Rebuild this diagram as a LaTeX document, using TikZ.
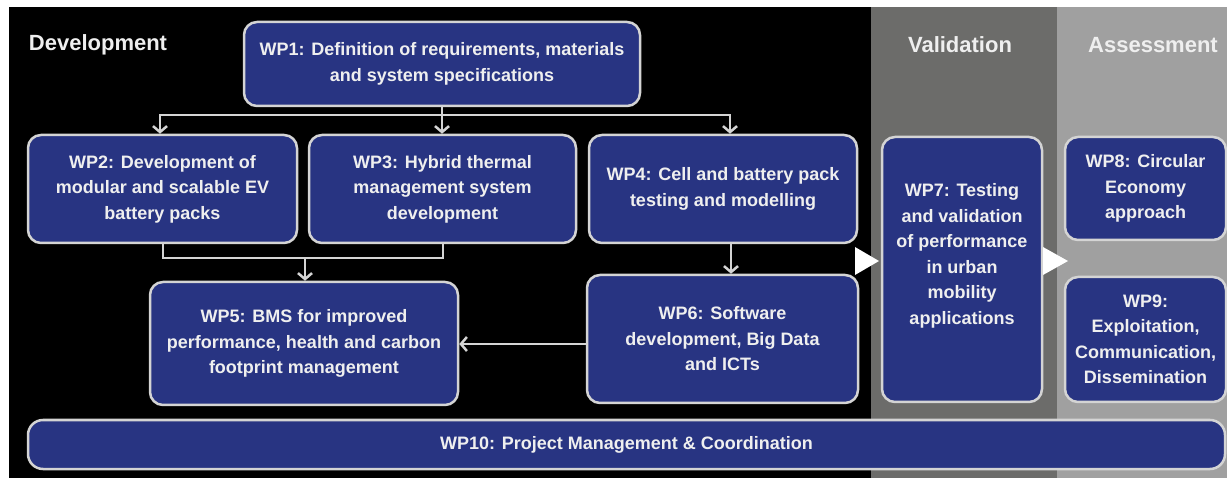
\documentclass[tikz,border=0pt]{standalone}
\usepackage{fontspec}
\setmainfont{Liberation Sans}
\usetikzlibrary{arrows.meta}
\definecolor{wpblue}{HTML}{283482}
\definecolor{edgegray}{HTML}{D4D4D4}
\definecolor{valgray}{HTML}{6C6C6A}
\definecolor{asgray}{HTML}{A0A0A0}
\definecolor{txt}{HTML}{EFEFEF}
\begin{document}
\begin{tikzpicture}[x=1pt,y=-1pt,
  wpbox/.style={draw=edgegray, line width=2.5pt, fill=wpblue, rounded corners=13pt,
    text=txt, font=\fontsize{18}{25.5}\selectfont\bfseries, align=center, inner sep=0pt},
  wptext/.style={text=txt, font=\fontsize{18}{25.5}\selectfont\bfseries, align=center, inner sep=0pt},
  hdr/.style={text=txt, font=\fontsize{22}{26}\selectfont\bfseries, inner sep=0pt},
  conn/.style={draw=edgegray, line width=2.5pt},
  arr/.style={conn, -{Straight Barb[length=6pt,width=14pt,line width=2.5pt]}},
]
\useasboundingbox (0,0) rectangle (1227,478);
\fill[white] (0,0) rectangle (1227,478);
\fill[black] (9,7) rectangle (1227,478);
\fill[valgray] (871,7) rectangle (1057,478);
\fill[asgray] (1057,7) rectangle (1227,478);

% headers
\node[hdr] (hdev) at (98,45) {Development};
\node[hdr] (hval) at (960,45) {Validation};
\node[hdr] (hass) at (1153,45) {Assessment};

% boxes
\node[wpbox, minimum width=396pt, minimum height=84pt] (wp1) at (442,64)
  {WP1: Definition of requirements, materials\\and system specifications};
\node[wpbox, minimum width=269pt, minimum height=108pt] (wp2) at (162.5,189)
  {WP2: Development of\\modular and scalable EV\\battery packs};
\node[wpbox, minimum width=267pt, minimum height=108pt] (wp3) at (442.5,189)
  {WP3: Hybrid thermal\\management system\\development};
\node[wpbox, minimum width=268pt, minimum height=108pt] (wp4) at (723,189)
  {WP4: Cell and battery pack\\testing and modelling};
\node[wpbox, minimum width=308pt, minimum height=123pt] (wp5) at (304,343.5)
  {WP5: BMS for improved\\performance, health and carbon\\footprint management};
\node[wpbox, minimum width=271pt, minimum height=128pt] (wp6) at (722.5,339)
  {WP6: Software\\development, Big Data\\and ICTs};
\node[wpbox, minimum width=160pt, minimum height=265pt] (wp7) at (962,269.5) {};
\node[wptext] (wp7t) at (962,256)
  {WP7: Testing\\and validation\\of performance\\in urban\\mobility\\applications};
\node[wpbox, minimum width=161pt, minimum height=103pt] (wp8) at (1145.5,188.5)
  {WP8: Circular\\Economy\\approach};
\node[wpbox, minimum width=161pt, minimum height=125pt] (wp9) at (1145.5,339.5)
  {WP9:\\Exploitation,\\Communication,\\Dissemination};
\node[wpbox, minimum width=1197pt, minimum height=49pt, rounded corners=15pt] (wp10) at (626.5,444.5)
  {WP10: Project Management \& Coordination};

% connectors from WP1
\coordinate (j1) at (442,115);
\coordinate (jl) at (160,115);
\coordinate (jr) at (730,115);
\draw[conn] (wp1.south) -- (j1);
\draw[arr] (j1) -- (j1 |- wp3.north);
\draw[arr] (j1) -| (jl |- wp2.north);
\draw[arr] (j1) -| (jr |- wp4.north);

% WP2, WP3 -> WP5
\coordinate (m2) at (163,258);
\coordinate (m3) at (443,258);
\coordinate (m5) at (305,258);
\draw[conn] (m2 |- wp2.south) |- (m3) -- (m3 |- wp3.south);
\draw[arr] (m5) -- (m5 |- wp5.north);

% WP4 -> WP6
\coordinate (c46) at (731,243);
\draw[arr] (c46) -- (c46 |- wp6.north);

% WP6 -> WP5
\coordinate (c65) at (600,344);
\draw[arr] (wp6.west |- c65) -- (wp5.east |- c65);

% phase arrows
\fill[white] (855,247) -- (879,261) -- (855,275) -- cycle;
\fill[white] (1043,247) -- (1068,261) -- (1043,275) -- cycle;
\end{tikzpicture}
\end{document}
